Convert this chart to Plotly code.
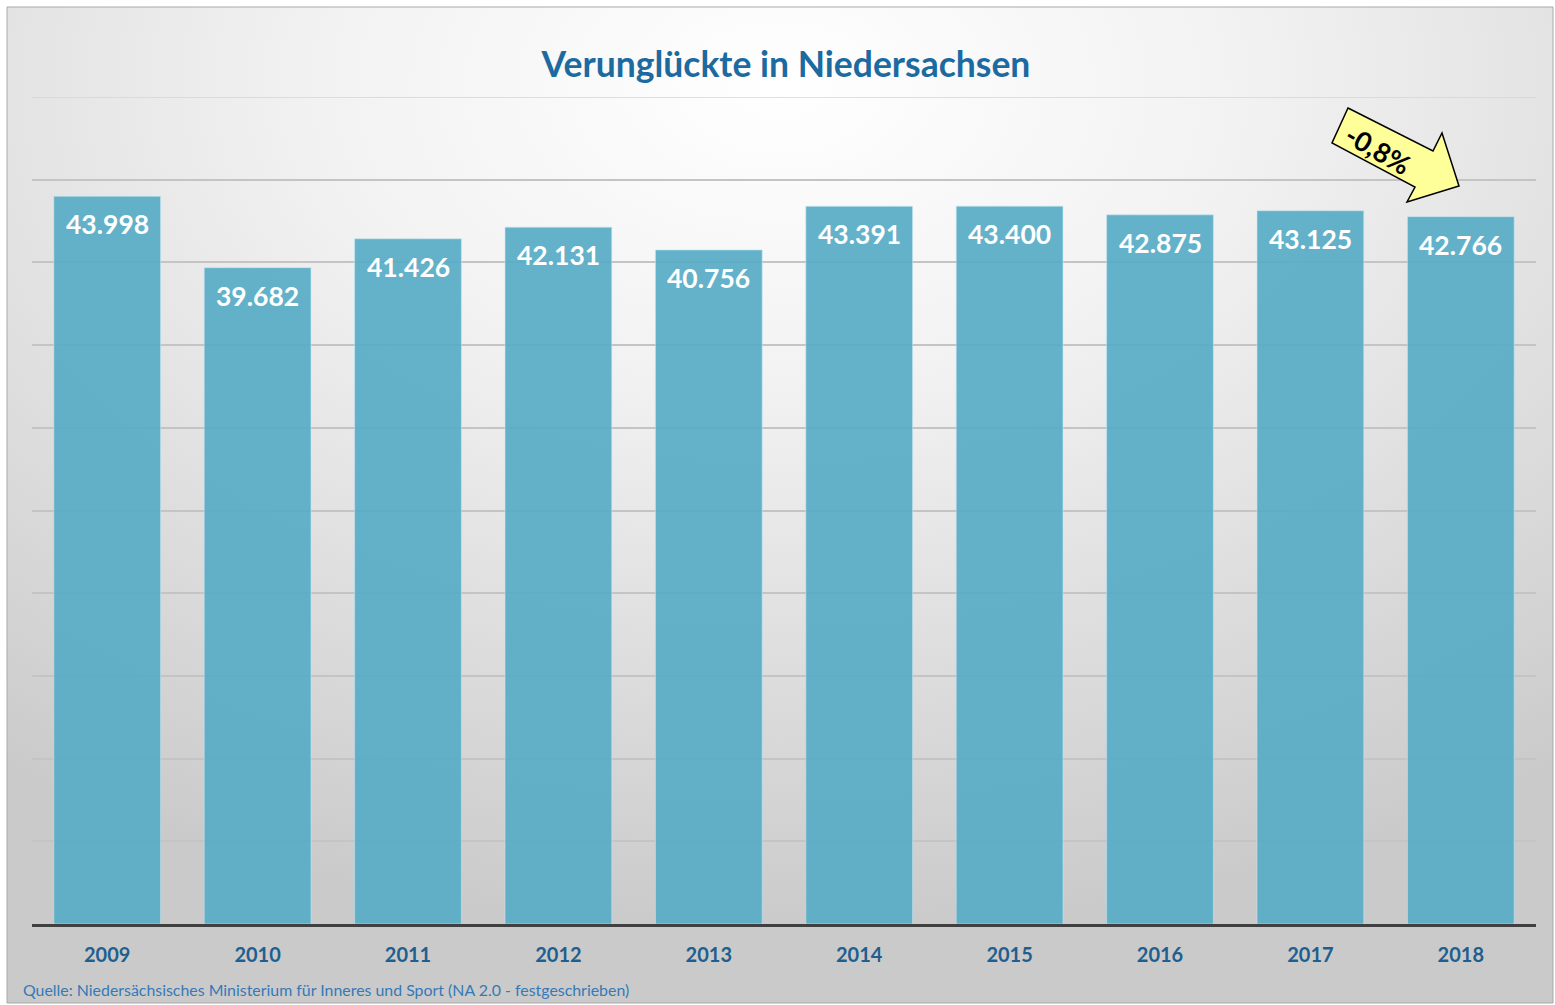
import base64
import plotly.graph_objects as go

years = ["2009", "2010", "2011", "2012", "2013", "2014", "2015", "2016", "2017", "2018"]
verunglueckte = [43998, 39682, 41426, 42131, 40756, 43391, 43400, 42875, 43125, 42766]
y_max, y_step = 50000, 5000
change_label = "-0,8%"
title_text = "Verunglückte in Niedersachsen"
source_text = "Quelle: Niedersächsisches Ministerium für Inneres und Sport (NA 2.0 - festgeschrieben)"

W, H = 1555, 1005
L, R, T, B = 32, 19, 97, 81
PW, PH = W - L - R, H - T - B


def px(x, y):
    return (x - L) / PW, (H - B - y) / PH


FONT = "Lato"

fig = go.Figure()
fig.add_trace(go.Bar(
    x=years, y=verunglueckte,
    marker=dict(color="rgb(88,173,199)", line=dict(color="rgba(200,230,240,0.6)", width=1)),
    opacity=0.92,
    hoverinfo="skip",
))

annotations = []
for i, v in enumerate(verunglueckte):
    annotations.append(dict(
        x=i, y=v, xref="x", yref="y", text=f"{v:,}".replace(",", "."),
        showarrow=False, xanchor="center", yanchor="top", yshift=-10,
        font=dict(family=FONT, size=26.5, color="white", weight="bold"),
    ))

# source
sx, sy = px(21, 989)
annotations.append(dict(x=sx, y=sy, xref="paper", yref="paper", text=source_text,
                        showarrow=False, xanchor="left", yanchor="middle",
                        font=dict(family=FONT, size=15.9, color="#3579B8")))
# arrow text
ax_, ay_ = px(1378, 150)
annotations.append(dict(x=ax_, y=ay_, xref="paper", yref="paper", text=f"<b>{change_label}</b>",
                        showarrow=False, textangle=30, xanchor="center", yanchor="middle",
                        font=dict(family=FONT, size=27, color="black")))

# arrow polygon
arrow_pts = [(1348, 108), (1433, 151), (1442, 133), (1459, 186), (1407, 202), (1415, 187), (1332, 143)]
path = "M " + " L ".join(f"{px(x, y)[0]:.5f},{px(x, y)[1]:.5f}" for x, y in arrow_pts) + " Z"

fx0, fy0 = px(7, 1003)
fx1, fy1 = px(1553, 7)
shapes = [
    dict(type="rect", xref="paper", yref="paper", x0=fx0, y0=fy0, x1=fx1, y1=fy1,
         line=dict(color="#A9A9A9", width=1), fillcolor="rgba(0,0,0,0)", layer="below"),
    dict(type="line", xref="paper", yref="y", x0=0, x1=1, y0=y_max, y1=y_max,
         line=dict(color="#D4D4D4", width=1.5), layer="below"),
    dict(type="path", xref="paper", yref="paper", path=path,
         fillcolor="#FFFF99", line=dict(color="black", width=1.5)),
]

svg = ("<svg xmlns='http://www.w3.org/2000/svg' width='1546' height='996' viewBox='0 0 1546 996' preserveAspectRatio='none'>"
       "<defs><radialGradient id='g' cx='0.5' cy='0.08' r='0.85' fx='0.5' fy='0.08'>"
       "<stop offset='0' stop-color='#FFFFFF'/><stop offset='0.35' stop-color='#F2F2F2'/>"
       "<stop offset='1' stop-color='#CACACA'/></radialGradient></defs>"
       "<rect width='1546' height='996' fill='url(#g)'/></svg>")
src = "data:image/svg+xml;base64," + base64.b64encode(svg.encode()).decode()

fig.update_layout(
    width=W, height=H,
    margin=dict(l=L, r=R, t=T, b=B),
    paper_bgcolor="white", plot_bgcolor="rgba(0,0,0,0)",
    bargap=0.29,
    showlegend=False,
    title=dict(text=f"<b>{title_text}</b>", x=(786) / W, xanchor="center", y=1 - 65 / H, yanchor="middle",
               font=dict(family=FONT, size=35.5, color="#1C6AA0")),
    xaxis=dict(type="category", range=[-0.5, len(years) - 0.5], autorange=False,
               showline=True, linecolor="#404040", linewidth=3, showgrid=False,
               ticks="", ticklabelstandoff=11,
               tickfont=dict(family=FONT, size=20, color="#1F5F8F", weight="bold")),
    yaxis=dict(range=[0, y_max], dtick=y_step, showticklabels=False, showgrid=True,
               gridcolor="#C4C4C4", gridwidth=1.5, zeroline=False, showline=False),
    annotations=annotations,
    shapes=shapes,
    images=[dict(source=src, xref="paper", yref="paper", x=fx0, y=fy1, sizex=fx1 - fx0, sizey=fy1 - fy0,
                 xanchor="left", yanchor="top", sizing="stretch", layer="below")],
)

fig.write_html("out.html", config={"displayModeBar": False},
               post_script="document.body.style.margin='0';document.body.style.overflow='hidden';")
